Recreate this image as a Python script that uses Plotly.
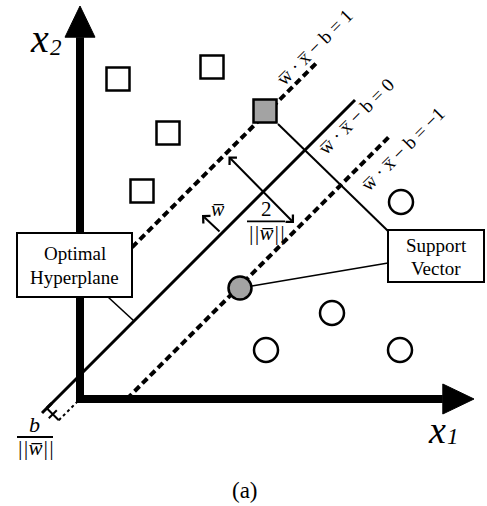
import plotly.graph_objects as go

# ---------------- data (diagram units, origin at the axes corner) ----------------
class_a_x = [0.95, 3.3, 2.2, 1.55]          # open squares
class_a_y = [8.0, 8.3, 6.65, 5.2]
sv_a_x = [4.625]                            # support vector square (filled)
sv_a_y = [7.2]
class_b_x = [8.025, 6.3, 4.65, 8.0]         # open circles
class_b_y = [4.925, 2.15, 1.225, 1.225]
sv_b_x = [4.0]                              # support vector circle (filled)
sv_b_y = [2.775]

# lines x2 = x1 + offset, drawn between x1_start and x1_end
line_names = ["w·x−b=1", "w·x−b=0", "w·x−b=−1", "origin"]
line_offset = [2.49, 0.6, -1.17, 0.0]
line_x_start = [1.3, -0.83, 1.17, -0.53]
line_x_end = [5.95, 6.875, 7.75, 0.0]

x_axis_end = 9.85
y_axis_end = 9.825
axis_head_len = 0.78
axis_head_half = 0.375

FONT = "Liberation Serif, DejaVu Serif, serif"
W = "w\u0305"
X = "x\u0305"
NORM = "||"

fig = go.Figure()

# ---------------- axes (thick arrows) ----------------
fig.add_trace(go.Scatter(x=[-0.1, x_axis_end - axis_head_len], y=[0, 0], mode="lines",
                         line=dict(color="black", width=8), hoverinfo="skip"))
fig.add_trace(go.Scatter(x=[0, 0], y=[-0.1, y_axis_end - axis_head_len], mode="lines",
                         line=dict(color="black", width=8), hoverinfo="skip"))
fig.add_trace(go.Scatter(
    x=[x_axis_end - axis_head_len, x_axis_end, x_axis_end - axis_head_len, x_axis_end - axis_head_len],
    y=[axis_head_half, 0, -axis_head_half, axis_head_half],
    fill="toself", fillcolor="black", mode="lines", line=dict(color="black", width=1), hoverinfo="skip"))
fig.add_trace(go.Scatter(
    x=[-axis_head_half, 0, axis_head_half, -axis_head_half],
    y=[y_axis_end - axis_head_len, y_axis_end, y_axis_end - axis_head_len, y_axis_end - axis_head_len],
    fill="toself", fillcolor="black", mode="lines", line=dict(color="black", width=1), hoverinfo="skip"))

# ---------------- hyperplane and margins ----------------
styles = [dict(color="black", width=4, dash="7px,4px"),
          dict(color="black", width=3),
          dict(color="black", width=4, dash="7px,4px"),
          dict(color="black", width=2, dash="3px,3px")]
for off, xs, xe, st in zip(line_offset, line_x_start, line_x_end, styles):
    fig.add_trace(go.Scatter(x=[xs, xe], y=[xs + off, xe + off], mode="lines",
                             line=st, hoverinfo="skip"))

# dimension marker b/||w|| between hyperplane end and origin line
hx, hy = line_x_start[1], line_x_start[1] + line_offset[1]
ox, oy = line_x_start[3], line_x_start[3] + line_offset[3]
fig.add_trace(go.Scatter(x=[hx, ox], y=[hy, oy], mode="lines",
                         line=dict(color="black", width=2), hoverinfo="skip"))
mx, my = (hx + ox) / 2, (hy + oy) / 2
fig.add_trace(go.Scatter(x=[hx - 0.12, hx + 0.12], y=[hy - 0.12, hy + 0.12], mode="lines",
                         line=dict(color="black", width=3), hoverinfo="skip"))
fig.add_trace(go.Scatter(x=[mx - 0.1, mx + 0.1], y=[my - 0.1, my + 0.1], mode="lines",
                         line=dict(color="black", width=2), hoverinfo="skip"))

# perpendicular through the support square to the label box
fig.add_trace(go.Scatter(x=[4.95, 7.7], y=[6.875, 4.2], mode="lines",
                         line=dict(color="black", width=2), hoverinfo="skip"))
# connector support circle -> box
fig.add_trace(go.Scatter(x=[sv_b_x[0], 7.7], y=[sv_b_y[0], 3.4], mode="lines",
                         line=dict(color="black", width=1.6), hoverinfo="skip"))
# connector optimal box -> hyperplane
fig.add_trace(go.Scatter(x=[0.7, 1.35], y=[2.55, 1.95], mode="lines",
                         line=dict(color="black", width=1.6), hoverinfo="skip"))

# ---------------- points ----------------
fig.add_trace(go.Scatter(x=class_a_x, y=class_a_y, mode="markers",
                         marker=dict(symbol="square", size=23, color="white",
                                     line=dict(color="black", width=2.5))))
fig.add_trace(go.Scatter(x=sv_a_x, y=sv_a_y, mode="markers",
                         marker=dict(symbol="square", size=23, color="#a3a3a3",
                                     line=dict(color="black", width=2.5))))
fig.add_trace(go.Scatter(x=class_b_x, y=class_b_y, mode="markers",
                         marker=dict(symbol="circle", size=24, color="white",
                                     line=dict(color="black", width=2.5))))
fig.add_trace(go.Scatter(x=sv_b_x, y=sv_b_y, mode="markers",
                         marker=dict(symbol="circle", size=23, color="#a3a3a3",
                                     line=dict(color="black", width=2.5))))

# ---------------- boxes ----------------
shapes = [
    dict(type="rect", xref="x", yref="y", x0=-1.575, x1=1.3, y0=2.55, y1=4.15,
         fillcolor="white", line=dict(color="black", width=2), layer="above"),
    dict(type="rect", xref="x", yref="y", x0=7.7, x1=10.1, y0=2.925, y1=4.225,
         fillcolor="white", line=dict(color="black", width=2), layer="above"),
    # fraction bars
    dict(type="line", xref="x", yref="y", x0=4.175, x1=5.125, y0=4.44, y1=4.44,
         line=dict(color="black", width=1.8)),
    dict(type="line", xref="x", yref="y", x0=-1.575, x1=-0.675, y0=-0.95, y1=-0.95,
         line=dict(color="black", width=1.8)),
]

ann = []
def txt(x, y, t, size, angle=0, italic=False):
    if italic:
        t = "<i>" + t + "</i>"
    ann.append(dict(x=x, y=y, xref="x", yref="y", text=t, showarrow=False,
                    textangle=angle, xanchor="center", yanchor="middle",
                    font=dict(family=FONT, size=size, color="black")))

# axis labels
txt(-1.025, 9.02, "x", 40, italic=True)
txt(-0.6, 8.78, "2", 23, italic=True)
txt(8.925, -0.78, "x", 38, italic=True)
txt(9.32, -0.93, "1", 23, italic=True)

# rotated equations
txt(5.85, 8.8, f"{W} · {X} − b = 1", 19, angle=-45)
txt(6.9, 7.06, f"{W} · {X} − b = 0", 19, angle=-45)
txt(8.05, 6.25, f"{W} · {X} − b = −1", 19, angle=-45)

# margin label
txt(4.65, 4.76, "2", 21)
txt(4.65, 4.14, f"{NORM}{W}{NORM}", 21, italic=True)
txt(3.45, 4.76, W, 20, italic=True)

# offset label
txt(-1.15, -0.63, "b", 22, italic=True)
txt(-1.125, -1.22, f"{NORM}{W}{NORM}", 21, italic=True)

# box texts
txt(-0.1375, 3.63, "Optimal", 19)
txt(-0.1375, 3.03, "Hyperplane", 19)
txt(8.9, 3.85, "Support", 19)
txt(8.9, 3.27, "Vector", 19)

# caption
txt(4.125, -2.275, "(a)", 23)

# arrows
ann.append(dict(x=5.35, y=4.4, ax=3.675, ay=6.1, xref="x", yref="y", axref="x", ayref="y",
                text="", showarrow=True, arrowhead=4, startarrowhead=4, arrowside="end+start",
                arrowwidth=2, arrowsize=1, startarrowsize=1, arrowcolor="black"))
ann.append(dict(x=3.05, y=4.6, ax=3.525, ay=4.15, xref="x", yref="y", axref="x", ayref="y",
                text="", showarrow=True, arrowhead=4, arrowwidth=2, arrowsize=1,
                arrowcolor="black"))

fig.update_layout(
    width=487, height=506,
    margin=dict(l=0, r=0, t=0, b=0),
    paper_bgcolor="white", plot_bgcolor="white",
    showlegend=False,
    xaxis=dict(range=[-2, 10.175], visible=False, fixedrange=True),
    yaxis=dict(range=[-2.675, 9.975], visible=False, fixedrange=True),
    shapes=shapes, annotations=ann,
)

fig.write_html("out.html", config={"displayModeBar": False},
               post_script="document.body.style.margin='0';document.body.style.overflow='hidden';")
